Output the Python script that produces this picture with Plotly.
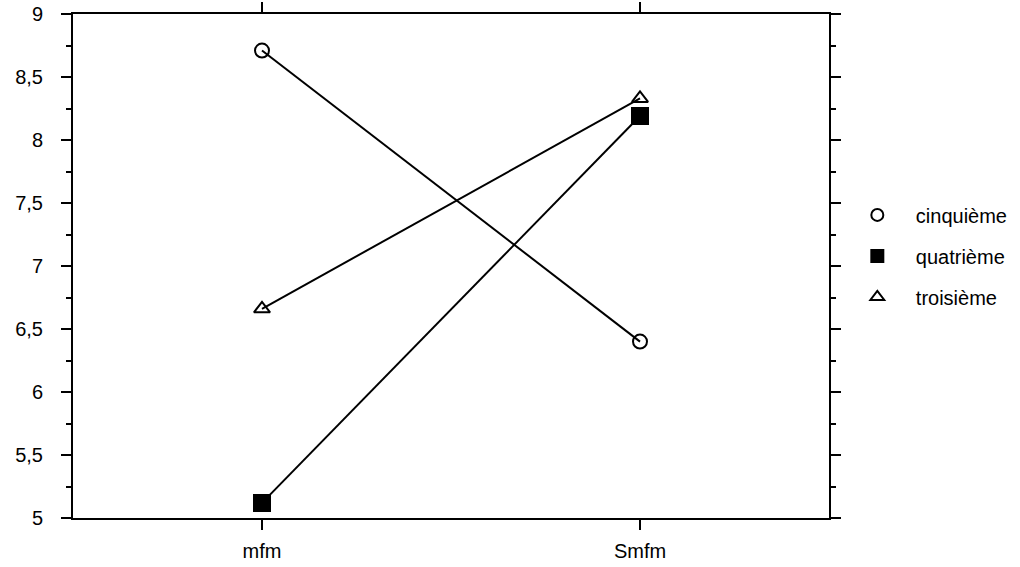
import plotly.graph_objects as go

categories = ["mfm", "Smfm"]
series_names = ["cinquième", "quatrième", "troisième"]
cinquieme = [8.71, 6.40]
quatrieme = [5.12, 8.19]
troisieme = [6.66, 8.33]
y_ticks = [5, 5.5, 6, 6.5, 7, 7.5, 8, 8.5, 9]

values = [cinquieme, quatrieme, troisieme]
symbols = ["circle-open", "square", "triangle-up-open"]
sizes = [14, 16, 14]

fig = go.Figure()
for name, vals in zip(series_names, values):
    fig.add_trace(go.Scatter(x=categories, y=vals, mode="lines",
                             line=dict(color="black", width=2),
                             showlegend=False, hoverinfo="skip"))
for name, vals, sym, sz in zip(series_names, values, symbols, sizes):
    fig.add_trace(go.Scatter(x=categories, y=vals, mode="markers", name=name,
                             legendgroup=name,
                             marker=dict(symbol=sym, size=sz, color="black",
                                         line=dict(color="black", width=2))))

fig.update_layout(
    width=1020, height=567,
    margin=dict(l=73, r=191, t=14, b=49, autoexpand=False),
    paper_bgcolor="white", plot_bgcolor="white",
    separators=", ",
    font=dict(family="Liberation Sans, Arial, sans-serif", size=20, color="black"),
    legend=dict(x=1.013, xanchor="left", y=0.52, yanchor="middle",
                font=dict(size=20), itemsizing="constant", tracegroupgap=12,
                itemwidth=67, bgcolor="rgba(0,0,0,0)"),
    showlegend=True,
)
fig.update_xaxes(
    type="category", range=[-0.5, 1.5],
    showline=True, linecolor="black", linewidth=2, mirror="ticks",
    ticks="outside", ticklen=10, tickwidth=2, tickcolor="black",
    showgrid=False, zeroline=False, ticklabelstandoff=4,
)
fig.update_yaxes(
    range=[5, 9], tickvals=y_ticks,
    showline=True, linecolor="black", linewidth=2, mirror="ticks",
    ticks="outside", ticklen=10, tickwidth=2, tickcolor="black",
    minor=dict(dtick=0.25, ticks="outside", ticklen=5, tickwidth=2, tickcolor="black", showgrid=False),
    showgrid=False, zeroline=False, ticklabelstandoff=14,
    ticklabeloverflow="allow",
)

fig.write_html("out.html", config={"displayModeBar": False},
               post_script="document.body.style.margin='0';")
